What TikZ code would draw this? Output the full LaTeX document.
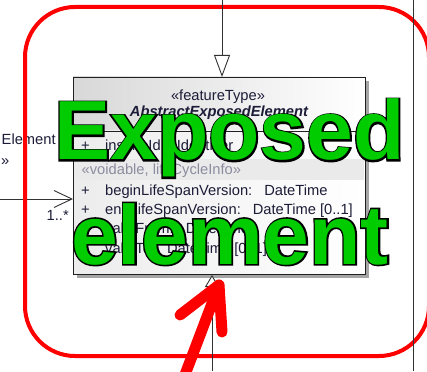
\documentclass[tikz,border=0pt]{standalone}
\usepackage{fontspec}
\setmainfont{Liberation Sans}
\newfontfamily\bigfill{Liberation Sans Bold}
\newfontfamily\bigedge{Liberation Sans Bold}[FakeBold=3.8]
\usetikzlibrary{arrows.meta}
\definecolor{umlink}{RGB}{28,28,56}
\definecolor{bandink}{RGB}{140,140,160}
\definecolor{boxborder}{RGB}{32,32,32}
\definecolor{linegray}{RGB}{50,50,50}
\definecolor{hdrgray}{RGB}{216,216,216}
\definecolor{bodygray}{RGB}{236,236,236}
\definecolor{bandgray}{RGB}{234,234,234}
\definecolor{shadowgray}{RGB}{165,165,165}
\definecolor{biggreen}{RGB}{0,204,0}
\definecolor{markred}{RGB}{255,0,0}
\newcommand\umlfnt{\fontsize{14.7}{17}\selectfont}
\newcommand\bigsize{\fontsize{84}{90}\selectfont}
\begin{document}
\begin{tikzpicture}[x=1pt,y=-1pt,
  umltext/.style={font=\umlfnt, text=umlink, inner sep=0pt, anchor=base west},
  umlcenter/.style={font=\umlfnt, text=umlink, inner sep=0pt, anchor=base},
  bandtext/.style={font=\umlfnt, text=bandink, inner sep=0pt, anchor=base west},
  conn/.style={draw=linegray, line width=0.9pt},
  bigtxt/.style={font=\bigfill\bigsize, text=biggreen, inner sep=0pt, anchor=base},
  bigout/.style={font=\bigedge\bigsize, text=black, inner sep=0pt, anchor=base},
  redmark/.style={draw=markred, line width=11pt, line cap=round, line join=round}]
\useasboundingbox (0,0) rectangle (427,371);
\fill[white] (0,0) rectangle (427,371);
% class box
\fill[shadowgray] (77,81) rectangle (369,278);
\shade[left color=hdrgray, right color=white] (73,77) rectangle (365,131);
\shade[left color=bodygray, right color=white] (73,131) rectangle (365,274);
\fill[bandgray] (74,159) rectangle (364,180);
\node[draw=boxborder, line width=1pt, minimum width=292pt, minimum height=197pt,
      anchor=north west, inner sep=0pt] (cls) at (73,77) {};
\draw[boxborder, line width=0.8pt] (cls.west |- 0,131) coordinate (sepL) -- (cls.east |- 0,131) coordinate (sepR);
% header
\node[umlcenter] (stereo) at (218,100.5) {«featureType»};
\node[umlcenter, font=\umlfnt\bfseries\itshape] (cname) at (219,117) {AbstractExposedElement};
% attributes
\node[umltext] (p1) at (81,151) {+};
\node[umltext] (a1) at (105,151) {inspireId:\hspace{12pt}Identifier};
\node[bandtext] (band) at (81.5,175) {«voidable, lifeCycleInfo»};
\node[umltext] (p2) at (81,195) {+};
\node[umltext] (a2) at (105,195) {beginLifeSpanVersion:\hspace{12pt}DateTime};
\node[umltext] (p3) at (81,214) {+};
\node[umltext] (a3) at (105,214) {endLifeSpanVersion:\hspace{12pt}DateTime [0..1]};
\node[umltext] (p4) at (81,233.5) {+};
\node[umltext] (a4) at (105,233.5) {validFrom:\hspace{12pt}DateTime};
\node[umltext] (p5) at (81,253) {+};
\node[umltext] (a5) at (105,253) {validTo:\hspace{12pt}DateTime [0..1]};
% left association
\coordinate (leftA) at (0,199);
\draw[conn, -{Straight Barb[length=18pt, width=17pt]}] (leftA) -- (leftA -| cls.west);
\node[umltext] (elname) at (1.5,145) {Element};
\node[umltext] (elguil) at (1,165) {»};
\node[umltext] (mult) at (46.5,220) {1..*};
% red frame
\draw[markred, line width=4pt, rounded corners=50pt] (25,7) rectangle (429,356);
% generalizations and other lines
\coordinate (topA) at (222,0);
\draw[conn, -{Triangle[open, length=22pt, width=16pt, fill=white]}] (topA) -- (topA |- cls.north);
\coordinate (botA) at (212,371);
\draw[conn, -{Triangle[open, length=12pt, width=14pt, fill=white]}] (botA) -- (botA |- cls.south);
\coordinate (rtT) at (413,0);
\coordinate (rtB) at (413,371);
\draw[conn] (rtT) -- (rtB);
% big label: black widened copy under the green text
\node[bigout] (t1o) at (229.5,160) {Exposed};
\node[bigtxt] (t1) at (t1o.base) {Exposed};
\node[bigout] (t2o) at (230,264) {element};
\node[bigtxt] (t2) at (t2o.base) {element};
% red arrow
\coordinate (rTip) at (219,285);
\coordinate (rTail) at (183,380);
\coordinate (rArmL) at (180,315);
\coordinate (rArmR) at (222,332);
\draw[redmark] (rTail) -- (rTip);
\draw[redmark] (rArmL) -- (rTip) -- (rArmR);
\end{tikzpicture}
\end{document}
